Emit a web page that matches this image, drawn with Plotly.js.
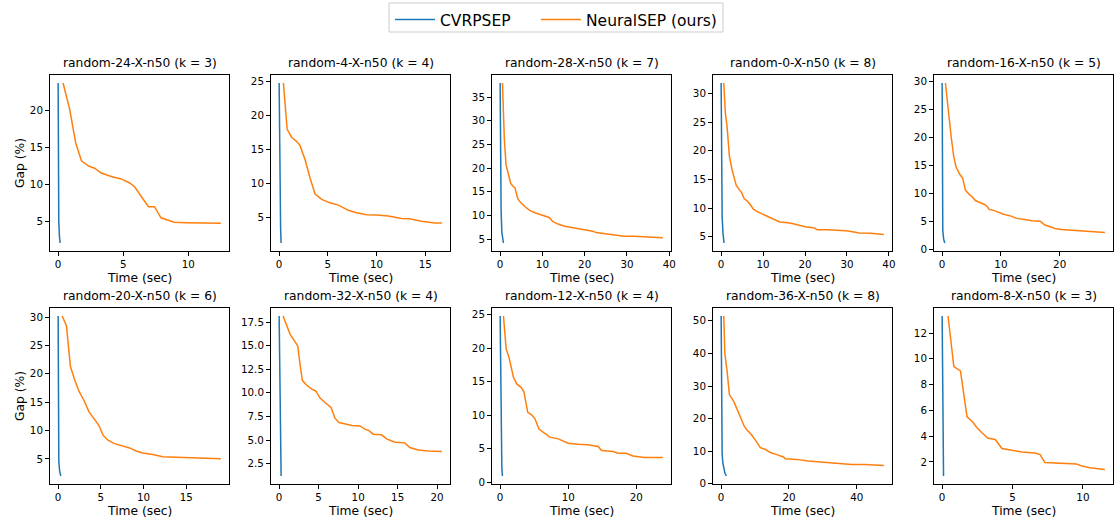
<!DOCTYPE html>
<html>
<head>
<meta charset="utf-8">
<script src="https://cdn.plot.ly/plotly-3.0.1.min.js"></script>
<style>html,body{margin:0;padding:0;background:#fff;}#chart{width:1118px;height:523px;}</style>
</head>
<body>
<div id="chart"></div>
<script>
// ---------- data ----------
const panelTitles = [
  "random-24-X-n50 (k = 3)", "random-4-X-n50 (k = 4)", "random-28-X-n50 (k = 7)",
  "random-0-X-n50 (k = 8)", "random-16-X-n50 (k = 5)", "random-20-X-n50 (k = 6)",
  "random-32-X-n50 (k = 4)", "random-12-X-n50 (k = 4)", "random-36-X-n50 (k = 8)",
  "random-8-X-n50 (k = 3)"
];
const seriesNames = ["CVRPSEP", "NeuralSEP (ours)"];

// random-24
const cvrpT24 = [0, 0.02, 0.05, 0.1, 0.15];
const cvrpG24 = [23.7, 10, 5, 3, 2.1];
const nsT24 = [0.38, 0.89, 1.35, 1.79, 2.37, 2.8, 3.3, 4.2, 4.85, 5.5, 5.87, 6.38, 6.94, 7.4, 7.9, 8.4, 8.93, 9.8, 10.8, 12.5];
const nsG24 = [23.7, 20.1, 15.6, 13.2, 12.45, 12.2, 11.55, 11.0, 10.75, 10.2, 9.7, 8.4, 7.0, 7.0, 5.5, 5.2, 4.9, 4.85, 4.8, 4.75];
// random-4
const cvrpT4 = [0, 0.05, 0.1, 0.15, 0.2];
const cvrpG4 = [24.8, 15, 8, 3.5, 1.3];
const nsT4 = [0.44, 0.82, 1.3, 1.81, 2.15, 2.67, 3.18, 3.69, 4.37, 5.2, 6.08, 7.1, 7.96, 8.98, 10.0, 11.2, 12.57, 13.4, 14.6, 16.0, 16.7];
const nsG4 = [24.8, 18.0, 16.8, 16.2, 15.6, 13.5, 10.8, 8.5, 7.7, 7.2, 6.86, 6.1, 5.73, 5.44, 5.4, 5.25, 4.9, 4.85, 4.5, 4.25, 4.25];
// random-28
const cvrpT28 = [0, 0.1, 0.23, 0.4, 0.6, 0.78];
const cvrpG28 = [38, 20, 11, 6.5, 4.8, 4.2];
const nsT28 = [0.55, 1.0, 1.4, 1.96, 2.5, 3.13, 3.5, 4.15, 4.7, 5.87, 7.0, 8.2, 9.4, 10.56, 11.6, 12.5, 13.7, 15.26, 16.8, 18.4, 19.95, 21.9, 22.7, 24.3, 27.0, 29.3, 31.7, 34.0, 36.4, 38.5];
const nsG28 = [38, 26, 20.7, 18.55, 16.8, 16.1, 15.9, 13.6, 12.9, 11.85, 11.1, 10.6, 10.2, 9.9, 9.6, 8.7, 8.2, 7.75, 7.5, 7.26, 6.9, 6.7, 6.4, 6.2, 5.85, 5.64, 5.64, 5.56, 5.5, 5.3];
// random-0
const cvrpT0 = [0, 0.1, 0.24, 0.45, 0.7];
const cvrpG0 = [31.8, 18, 8.5, 5.5, 3.9];
const nsT0 = [0.63, 1.0, 1.42, 1.97, 2.6, 3.15, 3.6, 4.33, 4.96, 5.5, 6.14, 6.93, 7.7, 8.5, 9.7, 11.26, 12.8, 14.0, 16.4, 18.3, 20.3, 22.3, 22.9, 25.4, 27.8, 29.8, 31.7, 32.9, 35.7, 38.8];
const nsG0 = [31.8, 26.6, 24.2, 19.0, 16.7, 15.2, 13.95, 13.2, 12.6, 11.6, 11.3, 10.6, 9.8, 9.4, 9.0, 8.55, 7.97, 7.56, 7.4, 7.0, 6.7, 6.5, 6.2, 6.2, 6.1, 6.05, 5.8, 5.64, 5.6, 5.4];
// random-16
const cvrpT16 = [0, 0.05, 0.11, 0.25, 0.45];
const cvrpG16 = [29.8, 15, 3.4, 1.8, 1.08];
const nsT16 = [0.56, 1.0, 1.53, 1.98, 2.37, 2.94, 3.5, 3.95, 4.52, 5.2, 5.65, 6.5, 7.23, 7.6, 8.0, 9.0, 10.45, 11.6, 12.7, 14.1, 15.25, 16.7, 17.5, 18.4, 19.2, 20.3, 22.0, 23.7, 25.4, 27.7];
const nsG16 = [29.8, 25.0, 20.2, 16.6, 14.7, 13.5, 12.7, 10.6, 9.9, 9.3, 8.7, 8.3, 8.0, 7.7, 7.1, 6.85, 6.25, 5.95, 5.5, 5.3, 5.06, 5.0, 4.3, 4.0, 3.7, 3.5, 3.4, 3.2, 3.07, 2.95];
// random-20
const cvrpT20 = [0, 0.04, 0.08, 0.18, 0.31];
const cvrpG20 = [30.2, 15, 4.5, 2.8, 2.0];
const nsT20 = [0.47, 0.97, 1.44, 1.94, 2.45, 3.0, 3.6, 4.27, 4.78, 5.25, 5.83, 6.6, 7.58, 8.36, 9.13, 9.9, 11.08, 12.24, 13.8, 15.74, 17.3, 19.04];
const nsG20 = [30.2, 28.5, 21.3, 18.9, 16.9, 15.4, 13.35, 12.05, 10.9, 9.2, 8.3, 7.7, 7.25, 6.95, 6.4, 6.05, 5.77, 5.41, 5.3, 5.18, 5.06, 5.06];
// random-32
const cvrpT32 = [0, 0.1, 0.2, 0.25];
const cvrpG32 = [18.14, 11, 4, 1.19];
const nsT32 = [0.5, 0.97, 1.39, 1.94, 2.36, 2.65, 2.95, 3.5, 4.13, 4.63, 5.18, 5.8, 6.57, 7.07, 7.58, 8.55, 9.18, 10.23, 10.86, 11.37, 11.9, 12.97, 13.6, 14.65, 15.9, 16.55, 17.6, 18.86, 20.6];
const nsG32 = [18.14, 17.07, 16.2, 15.5, 14.96, 13.0, 11.3, 10.8, 10.4, 10.2, 9.45, 8.98, 8.46, 7.32, 6.86, 6.68, 6.54, 6.5, 6.15, 6.0, 5.62, 5.55, 5.12, 4.77, 4.7, 4.2, 3.95, 3.85, 3.78];
// random-12
const cvrpT12 = [0, 0.1, 0.15, 0.25, 0.34];
const cvrpG12 = [24.8, 12, 5, 2, 0.9];
const nsT12 = [0.49, 0.88, 1.32, 1.6, 1.95, 2.44, 3.07, 3.5, 4.05, 4.63, 5.12, 5.7, 6.34, 7.3, 8.54, 10.0, 11.46, 12.9, 14.4, 14.9, 16.6, 17.3, 18.5, 19.5, 21.2, 23.9];
const nsG12 = [24.8, 19.9, 18.55, 17.05, 15.65, 14.65, 14.15, 13.45, 10.4, 10.05, 9.45, 7.9, 7.4, 6.7, 6.45, 5.8, 5.65, 5.55, 5.3, 4.7, 4.55, 4.3, 4.3, 3.9, 3.65, 3.65];
// random-36
const cvrpT36 = [0, 0.05, 0.1, 0.3, 0.5, 0.78, 1.1, 1.56];
const cvrpG36 = [51.5, 30, 20, 9.3, 6.5, 4.6, 3.3, 2.4];
const nsT36 = [0.78, 1.08, 1.76, 2.45, 3.72, 4.7, 5.97, 6.85, 7.63, 8.9, 10.1, 11.55, 13.0, 14.5, 16.4, 18.4, 18.9, 22.3, 25.7, 29.6, 33.6, 37.0, 38.5, 42.4, 45.3, 48.0];
const nsG36 = [51.5, 40.2, 34.5, 27.3, 25.3, 23.0, 20.1, 17.6, 16.5, 15.15, 13.4, 11.1, 10.6, 9.6, 8.97, 8.25, 7.7, 7.5, 7.0, 6.7, 6.5, 6.2, 5.9, 5.9, 5.7, 5.6];
// random-8
const cvrpT8 = [0, 0.05, 0.1];
const cvrpG8 = [13.32, 7, 0.91];
const nsT8 = [0.42, 0.83, 1.3, 1.77, 2.17, 2.48, 2.83, 3.23, 3.77, 4.25, 4.95, 5.66, 6.6, 6.96, 7.3, 8.25, 9.08, 9.55, 10.0, 10.5, 11.56];
const nsG8 = [13.32, 9.4, 9.06, 5.5, 5.1, 4.66, 4.27, 3.86, 3.74, 3.04, 2.9, 2.78, 2.7, 2.57, 1.95, 1.92, 1.87, 1.84, 1.66, 1.55, 1.42];

const xTickStep = [5, 5, 10, 10, 10, 5, 5, 10, 20, 5];
const yTickStep = [5, 5, 5, 5, 5, 5, 2.5, 5, 10, 2];

// ---------- assembly ----------
const panels = [
  [cvrpT24, cvrpG24, nsT24, nsG24], [cvrpT4, cvrpG4, nsT4, nsG4],
  [cvrpT28, cvrpG28, nsT28, nsG28], [cvrpT0, cvrpG0, nsT0, nsG0],
  [cvrpT16, cvrpG16, nsT16, nsG16], [cvrpT20, cvrpG20, nsT20, nsG20],
  [cvrpT32, cvrpG32, nsT32, nsG32], [cvrpT12, cvrpG12, nsT12, nsG12],
  [cvrpT36, cvrpG36, nsT36, nsG36], [cvrpT8, cvrpG8, nsT8, nsG8]
];

const W = 1118, H = 523;
const colLeft = [50, 271, 492, 713, 934];
const plotW = 179;
const rowTop = [75, 308];
const plotH = 176;
const colors = ["#1f77b4", "#ff7f0e"];
const FONT = "DejaVu Sans, sans-serif";

const legendCommon = {
  orientation: "h", xanchor: "left", y: 1 - 3 / H, yanchor: "top",
  font: {size: 15.5, family: FONT, color: "#000"},
  itemwidth: 40, bgcolor: "rgba(0,0,0,0)", borderwidth: 0
};

const data = [];
const layout = {
  width: W, height: H,
  margin: {l: 0, r: 0, t: 0, b: 0},
  paper_bgcolor: "#fff", plot_bgcolor: "#fff",
  font: {family: FONT, color: "#000"},
  showlegend: true,
  legend: Object.assign({}, legendCommon, {x: 390 / W}),
  legend2: Object.assign({}, legendCommon, {x: 536 / W}),
  shapes: [{
    type: "rect", xref: "paper", yref: "paper",
    x0: 389 / W, x1: 723 / W, y0: 1 - 32 / H, y1: 1 - 3 / H,
    line: {color: "#cccccc", width: 1}, fillcolor: "#fff", layer: "below"
  }],
  annotations: []
};

function padRange(arrs) {
  let mn = Infinity, mx = -Infinity;
  arrs.forEach(a => a.forEach(v => { mn = Math.min(mn, v); mx = Math.max(mx, v); }));
  const p = (mx - mn) * 0.05;
  return [mn - p, mx + p];
}

panels.forEach((p, i) => {
  const row = Math.floor(i / 5), col = i % 5;
  const sfx = i === 0 ? "" : String(i + 1);
  const x0 = colLeft[col] / W, x1 = (colLeft[col] + plotW) / W;
  const yTop = 1 - rowTop[row] / H, yBot = 1 - (rowTop[row] + plotH) / H;
  const axCommon = {
    showline: true, mirror: true, linecolor: "#000", linewidth: 1,
    ticks: "outside", ticklen: 4, tickwidth: 1, tickcolor: "#000",
    showgrid: false, zeroline: false, automargin: false,
    tickfont: {size: 10.3, family: FONT, color: "#000"}
  };
  layout["xaxis" + sfx] = Object.assign({}, axCommon, {
    domain: [x0, x1], anchor: "y" + sfx,
    range: padRange([p[0], p[2]]), dtick: xTickStep[i], tick0: 0
  });
  layout["yaxis" + sfx] = Object.assign({}, axCommon, {
    domain: [yBot, yTop], anchor: "x" + sfx,
    range: padRange([p[1], p[3]]), dtick: yTickStep[i], tick0: 0,
    tickformat: yTickStep[i] === 2.5 ? ".1f" : ""
  });
  for (let s = 0; s < 2; s++) {
    data.push({
      type: "scatter", mode: "lines",
      x: p[s * 2], y: p[s * 2 + 1],
      xaxis: "x" + sfx, yaxis: "y" + sfx,
      name: seriesNames[s], showlegend: i === 0,
      legend: s === 0 ? "legend" : "legend2",
      line: {color: colors[s], width: 1.5},
      hoverinfo: "skip"
    });
  }
  layout.annotations.push({
    text: panelTitles[i], xref: "paper", yref: "paper",
    x: (x0 + x1) / 2, y: yTop + 3 / H, xanchor: "center", yanchor: "bottom",
    showarrow: false, font: {size: 12.3, family: FONT, color: "#000"}
  });
  layout.annotations.push({
    text: "Time (sec)", xref: "paper", yref: "paper",
    x: (x0 + x1) / 2, y: yBot - 26.5 / H, xanchor: "center", yanchor: "middle",
    showarrow: false, font: {size: 12.3, family: FONT, color: "#000"}
  });
  if (col === 0) {
    layout.annotations.push({
      text: "Gap (%)", xref: "paper", yref: "paper", textangle: -90,
      x: 20 / W, y: (yTop + yBot) / 2, xanchor: "center", yanchor: "middle",
      showarrow: false, font: {size: 12.3, family: FONT, color: "#000"}
    });
  }
});

Plotly.newPlot("chart", data, layout, {displayModeBar: false, staticPlot: true});
</script>
</body>
</html>
